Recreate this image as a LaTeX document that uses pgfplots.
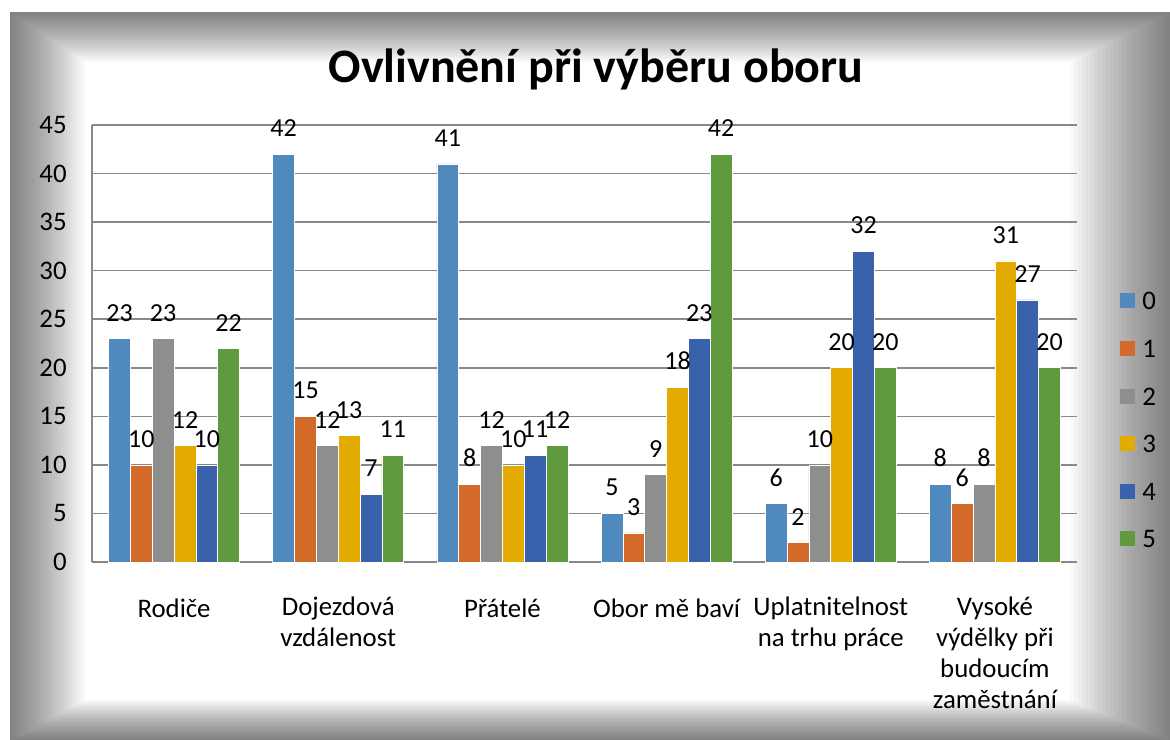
\documentclass[border=0pt]{standalone}
\usepackage{fontspec}
\setmainfont{Carlito}
\usepackage{pgfplots}
\pgfplotsset{compat=1.18}

\definecolor{c0}{HTML}{4F89BD}
\definecolor{c1}{HTML}{D46A2A}
\definecolor{c2}{HTML}{8E8E8E}
\definecolor{c3}{HTML}{E3AA00}
\definecolor{c4}{HTML}{3A62AC}
\definecolor{c5}{HTML}{609A3E}
\definecolor{gridgray}{HTML}{888888}

\newcommand{\lbl}{\fontsize{13.4bp}{15.5bp}\selectfont}

\begin{document}
\begin{tikzpicture}
\useasboundingbox (0,0) rectangle (585bp,-370bp);
% frame: stacked thin rings darken the edges
\fill[white] (5bp,-6bp) rectangle (585bp,-370bp);
\foreach \k in {1,...,25} {
  \fill[black, fill opacity=0.024, even odd rule]
    (5bp,-6bp) rectangle (585bp,-370bp)
    ({5bp+1.5bp*\k},{-6bp-1.0bp*\k}) rectangle ({585bp-2bp*\k},{-370bp+0.8bp*\k});
}

\node[anchor=base, font=\fontsize{24bp}{29bp}\selectfont\bfseries] at (298bp,-41bp)
  {Ovlivnění při výběru oboru};

\begin{axis}[
  at={(46bp,-281bp)}, anchor=south west,
  scale only axis, width=492.5bp, height=218.5bp,
  ybar=0pt, bar width=0.133,
  xmin=-0.5, xmax=5.5, ymin=0, ymax=45,
  xtick={0,...,5},
  xticklabels={Rodiče, Dojezdová\\vzdálenost, Přátelé, Obor mě baví,
    Uplatnitelnost\\na trhu práce, Vysoké\\výdělky při\\budoucím\\zaměstnání},
  ytick={0,5,...,45},
  /pgf/number format/assume math mode=true,
  axis x line*=bottom, axis y line*=left,
  axis line style={draw=gridgray, line width=0.75bp},
  ymajorgrids, grid style={draw=gridgray, line width=0.75bp},
  major tick length=0pt,
  tick label style={font=\lbl, text=black},
  xticklabel style={align=center, inner sep=0pt, yshift=-17bp,
    execute at begin node=\rule{0pt}{10.5bp}},
  yticklabel style={inner sep=0pt, xshift=-12.5bp},
  every axis plot/.append style={draw=white, line width=0.3bp},
  nodes near coords,
  nodes near coords style={font=\fontsize{13bp}{15bp}\selectfont, text=black,
    anchor=south, inner sep=0pt, yshift=8.5bp},
  legend style={draw=none, fill=none, at={(1.0437,0.6167)}, anchor=north west,
    inner sep=0pt, row sep=15.3bp, font=\lbl,
    nodes={inner sep=0pt, text height=8.5bp, text depth=0pt},
    /tikz/every odd column/.append style={column sep=3.5bp}},
  legend image code/.code={\fill[#1, draw=none] (0bp,-3.5bp) rectangle (7.5bp,4bp);},
  clip=false,
]
\addplot[fill=c0] coordinates {(0,23) (1,42) (2,41) (3,5) (4,6) (5,8)};
\addplot[fill=c1] coordinates {(0,10) (1,15) (2,8) (3,3) (4,2) (5,6)};
\addplot[fill=c2] coordinates {(0,23) (1,12) (2,12) (3,9) (4,10) (5,8)};
\addplot[fill=c3] coordinates {(0,12) (1,13) (2,10) (3,18) (4,20) (5,31)};
\addplot[fill=c4] coordinates {(0,10) (1,7) (2,11) (3,23) (4,32) (5,27)};
\addplot[fill=c5] coordinates {(0,22) (1,11) (2,12) (3,42) (4,20) (5,20)};
\legend{0,1,2,3,4,5}
\end{axis}
\end{tikzpicture}
\end{document}
